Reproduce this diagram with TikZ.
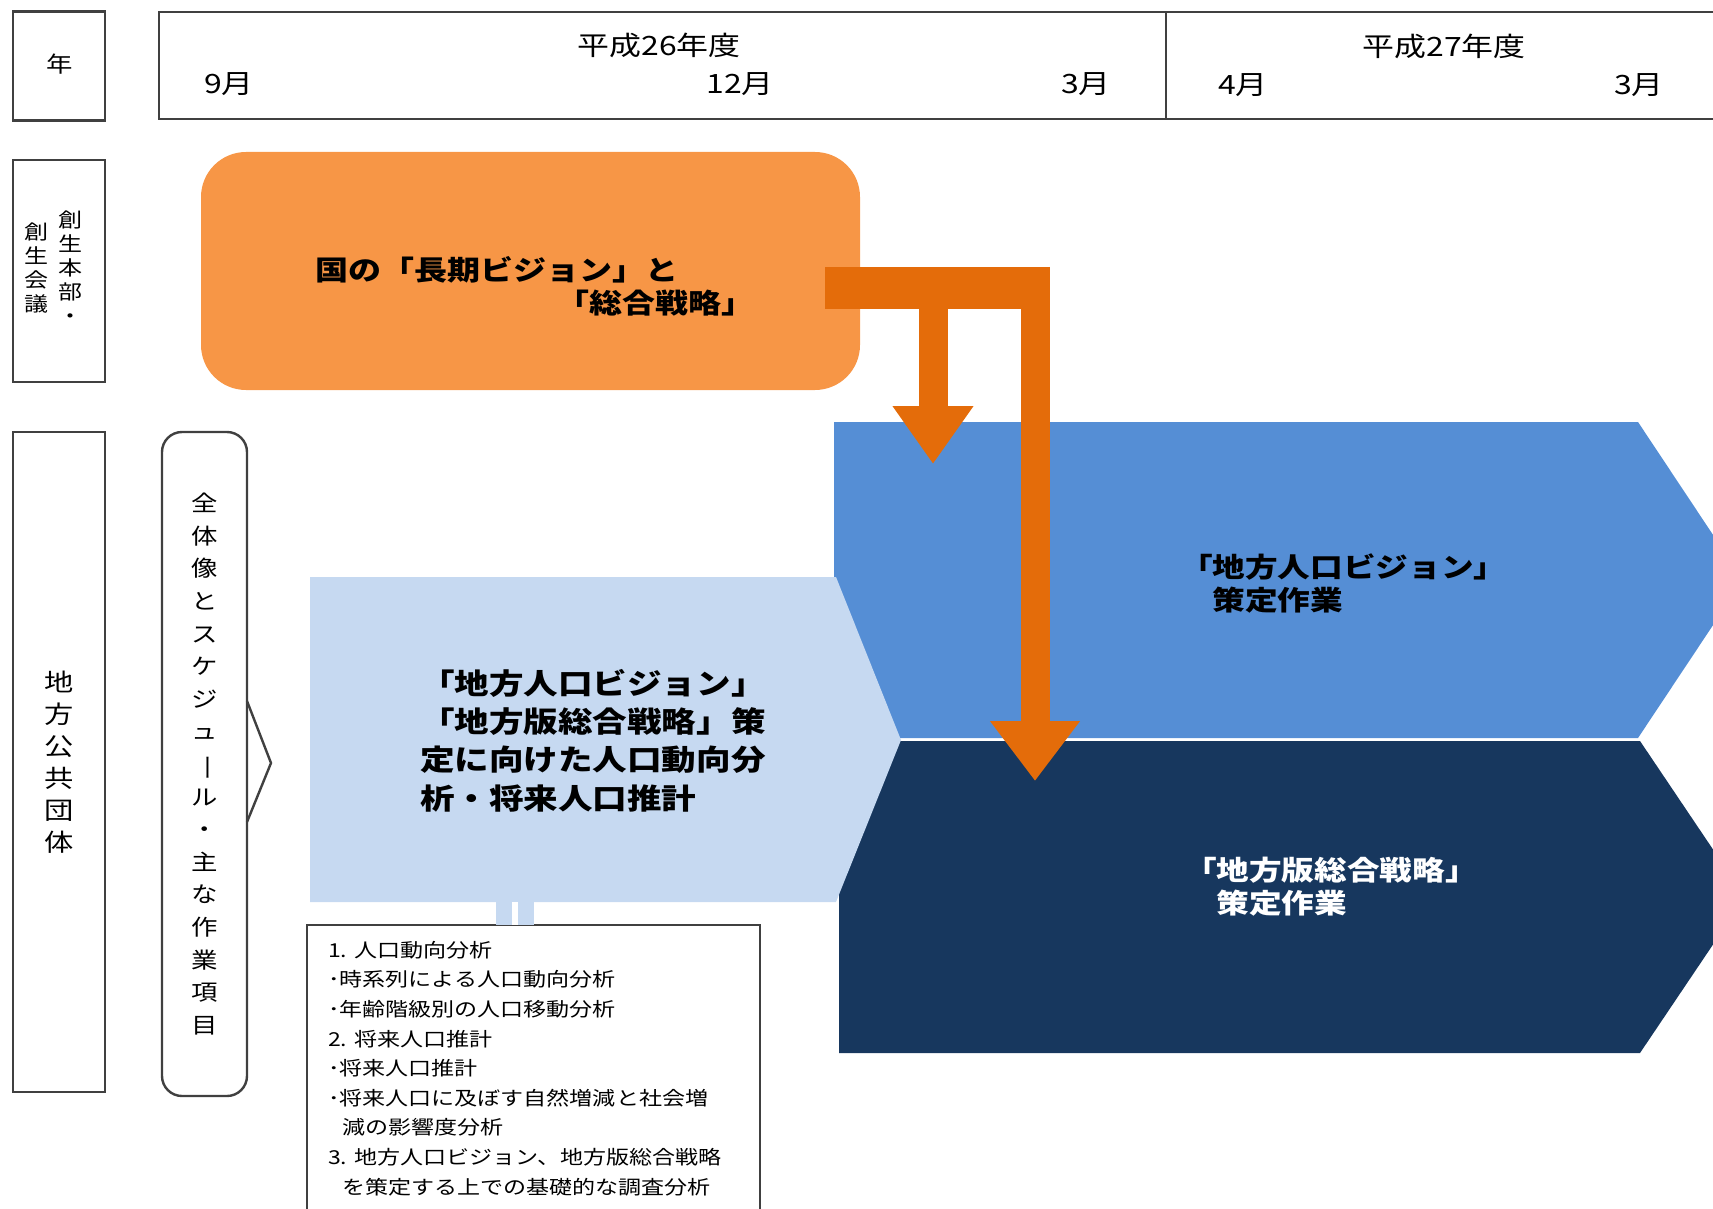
\documentclass[tikz,border=0pt]{standalone}
\usepackage{fontspec}
\usepackage{graphicx}
\usepackage{tikz}
\usetikzlibrary{arrows.meta}
\newfontfamily\jp[FakeStretch=1.2]{Noto Sans CJK JP}
\definecolor{framegray}{HTML}{404040}
\definecolor{nationfill}{HTML}{F79646}
\definecolor{feedfill}{HTML}{E46C0A}
\definecolor{planfill}{HTML}{C6D9F1}
\definecolor{visionfill}{HTML}{558ED5}
\definecolor{strategyfill}{HTML}{17375E}
\begin{document}
\begin{tikzpicture}[x=0.5pt,y=-0.5pt,inner sep=0pt,outer sep=0pt,
frame/.style={draw=framegray,line width=1.2pt},
headbox/.style={frame,rectangle,minimum width=46pt},
monthtext/.style={font=\jp\fontsize{13.3}{16}\selectfont},
tatebig/.style={align=center,font=\jp\fontsize{12.2}{16}\selectfont},
tatemid/.style={align=center,font=\jp\fontsize{11}{16.3}\selectfont},
tatesmall/.style={align=center,font=\jp\fontsize{10}{12}\selectfont},
nationtext/.style={align=left,font=\jp\bfseries\fontsize{13.75}{16.5}\selectfont},
plantext/.style={align=left,font=\jp\bfseries\fontsize{14.4}{19.2}\selectfont},
visiontext/.style={align=left,font=\jp\bfseries\fontsize{13.6}{16.5}\selectfont},
notetext/.style={align=left,font=\jp\fontsize{9.6}{14.8}\selectfont},
notebox/.style={draw=framegray,line width=1pt,fill=white},
bridge/.style={draw=planfill,line width=8pt,double=white,double distance=3pt},
feed/.style={draw=feedfill}]
\useasboundingbox (0,0) rectangle (1713,1209);
\clip (0,0) rectangle (1713,1209);
\draw (59,66) node[headbox,minimum height=54.5pt] (year) {};
\draw (59.5,64) node[font=\jp\fontsize{11}{13}\selectfont] (yearlabel) {年};
\draw (59,271) node[headbox,minimum height=111pt] (honbu) {};
\draw (70,267) node[tatesmall] (honbuA) {創\\生\\本\\部\\・};
\draw (37,268) node[tatesmall] (honbuB) {創\\生\\会\\議};
\draw (59,762) node[headbox,minimum height=330pt,tatebig] (chiho) {地\\方\\公\\共\\団\\体};
\draw (204.5,764) node[frame,rectangle,rounded corners=10pt,minimum width=42.5pt,minimum height=332pt,tatemid] (zentai)
  {全\\体\\像\\と\\ス\\ケ\\ジ\\ュ\\\rotatebox[origin=c]{-90}{ー}\\ル\\・\\主\\な\\作\\業\\項\\目};
\draw[frame] (zentai.east) ++(0,-63) -- ++(24,62) -- ++(-24,59);
\draw[frame] (1713,12) -- (159,12) -- (159,119) -- (1713,119);
\draw[frame] (1166,12) -- (1166,119);
\draw (659,45) node[monthtext] (fy26) {平成26年度};
\draw (229,84) node[monthtext] (m9) {9月};
\draw (740,84) node[monthtext] (m12) {12月};
\draw (1086,84) node[monthtext] (m3a) {3月};
\draw (1444,46) node[monthtext] (fy27) {平成27年度};
\draw (1243,85) node[monthtext] (m4) {4月};
\draw (1639,85) node[monthtext] (m3b) {3月};
\draw (530.5,271) node[fill=nationfill,rectangle,rounded corners=22.5pt,minimum width=329.5pt,minimum height=119pt] (nation) {};
\draw (315,286.5) node[nationtext,anchor=west] (nationlabel) {国の「長期ビジョン」と\\\hspace*{120.5pt}「総合戦略」};
\fill[visionfill] (834,422) -- (1638,422) -- (1743,580) -- (1638,738) -- (834,738) -- cycle;
\fill[strategyfill] (839,741) -- (1640,741) -- (1745,897) -- (1640,1053) -- (839,1053) -- cycle;
\fill[planfill] (310,577) -- (836,577) -- (901,740) -- (836,902) -- (310,902) -- cycle;
\draw (420,740.5) node[plantext,anchor=west] (planlabel) {「地方人口ビジョン」\\「地方版総合戦略」策\\定に向けた人口動向分\\析・将来人口推計};
\draw (1180,583.5) node[visiontext,anchor=west] (visionlabel) {「地方人口ビジョン」\\　策定作業};
\draw (1184,886.5) node[visiontext,anchor=west,text=white] (strategylabel) {「地方版総合戦略」\\　策定作業};
\draw[notebox] (307,925) rectangle (760,1240);
\draw (328,1068.5) node[notetext,anchor=west] (note) {1. 人口動向分析\\･時系列による人口動向分析\\･年齢階級別の人口移動分析\\2. 将来人口推計\\･将来人口推計\\･将来人口に及ぼす自然増減と社会増\\\hspace*{7pt}減の影響度分析\\3. 地方人口ビジョン、地方版総合戦略\\\hspace*{7pt}を策定する上での基礎的な調査分析};
\coordinate (planfoot) at (515,902);
\coordinate (notehead) at (515,925);
\draw[bridge] (planfoot) -- (notehead);
\coordinate (feedstart) at (825,288);
\coordinate (feedcorner) at (1050,288);
\coordinate (feedtop) at (1035,267);
\coordinate (feedfoot) at (933,300);
\coordinate (visiontip) at (933,464);
\coordinate (strategytip) at (1035,781);
\draw[feed,line width=21pt] (feedstart) -- (feedcorner);
\draw[feed,line width=14.5pt,-{Triangle[width=43pt,length=30pt]}] (feedtop) -- (strategytip);
\draw[feed,line width=14.5pt,-{Triangle[width=38.5pt,length=29pt]}] (feedfoot) -- (visiontip);
\end{tikzpicture}
\end{document}
